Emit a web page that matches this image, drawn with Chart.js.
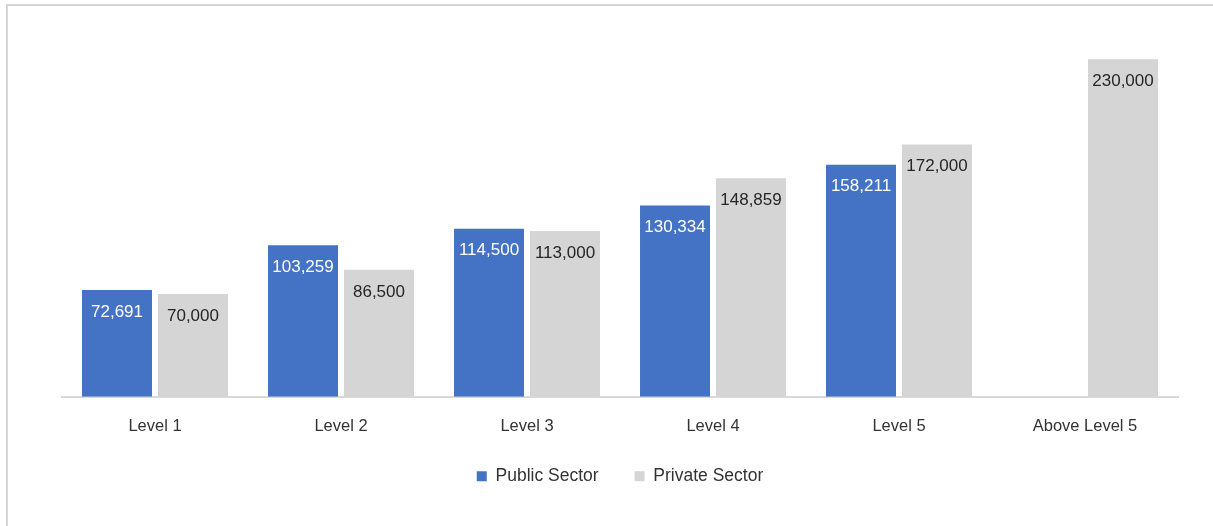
<!DOCTYPE html>
<html>
<head>
<meta charset="utf-8">
<script src="https://cdn.jsdelivr.net/npm/chart.js@4"></script>
<style>
  html, body { margin: 0; padding: 0; background: #fff; }
  #frame {
    position: absolute; left: 6px; top: 4px; width: 1207px; height: 522px;
    border-top: 2px solid #d6d6d6; border-left: 2px solid #d6d6d6;
    box-sizing: border-box;
  }
  #wrap { position: absolute; left: 0; top: 0; width: 1213px; height: 526px; }
</style>
</head>
<body>
<div id="frame"></div>
<div id="wrap"><canvas id="salary-chart"></canvas></div>
<script>
const levels = ['Level 1', 'Level 2', 'Level 3', 'Level 4', 'Level 5', 'Above Level 5'];
const publicSector = [72691, 103259, 114500, 130334, 158211, null];
const privateSector = [70000, 86500, 113000, 148859, 172000, 230000];

const textFont = "'Liberation Sans', Arial, Helvetica, sans-serif";

// writes each value just inside the top of its bar
const barValues = {
    id: 'barValues',
    afterDatasetsDraw(chart) {
        const ctx = chart.ctx;
        ctx.save();
        ctx.font = '17px ' + textFont;
        ctx.textAlign = 'center';
        ctx.textBaseline = 'middle';
        chart.data.datasets.forEach((ds, i) => {
            const meta = chart.getDatasetMeta(i);
            meta.data.forEach((bar, j) => {
                const v = ds.data[j];
                if (v == null) return;
                ctx.fillStyle = i === 0 ? '#ffffff' : '#262626';
                ctx.fillText(v.toLocaleString('en-US'), bar.x, bar.y + 22);
            });
        });
        ctx.restore();
    }
};

const ctx = document.getElementById('salary-chart').getContext('2d');
new Chart(ctx, {
    type: 'bar',
    data: {
        labels: levels,
        datasets: [
            {
                label: 'Public Sector',
                data: publicSector,
                backgroundColor: '#4472c4',
            },
            {
                label: 'Private Sector',
                data: privateSector,
                backgroundColor: '#d4d5d4',
            },
        ]
    },
    options: {
        responsive: true,
        maintainAspectRatio: false,
        animation: false,
        layout: { padding: { left: 62, right: 35, top: 30, bottom: 31 } },
        datasets: {
            bar: { categoryPercentage: 0.817, barPercentage: 0.921 }
        },
        scales: {
            x: {
                grid: { display: false },
                border: { color: '#d9d9d9', width: 2 },
                ticks: {
                    color: '#333333',
                    padding: 12,
                    font: { size: 16.5, family: textFont }
                },
                // pull the legend up closer to the category labels
                afterFit(scale) { scale.height -= 17; }
            },
            y: {
                display: false,
                min: 0,
                max: 250000
            }
        },
        plugins: {
            legend: {
                position: 'bottom',
                labels: {
                    boxWidth: 10,
                    boxHeight: 10,
                    padding: 36,
                    color: '#333333',
                    font: { size: 17.5, family: textFont }
                }
            },
            tooltip: { enabled: false }
        }
    },
    plugins: [barValues]
});
</script>
</body>
</html>
